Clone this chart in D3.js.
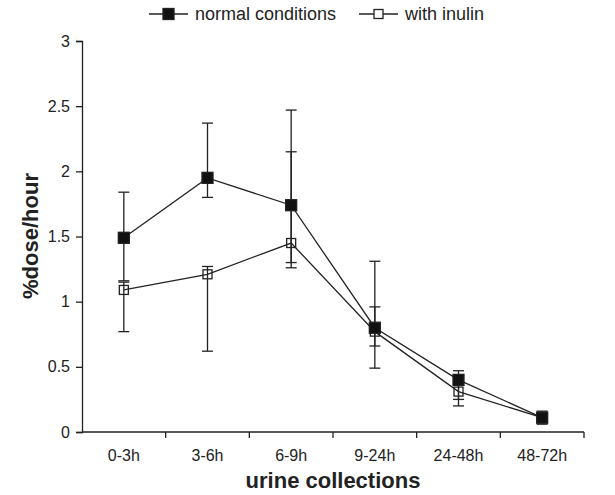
<!DOCTYPE html>
<html>
<head>
<meta charset="utf-8">
<script src="https://cdn.jsdelivr.net/npm/d3@7"></script>
<style>
  body { margin: 0; background: #fff; }
  text { font-family: "Liberation Sans", Arial, sans-serif; fill: #222; }
</style>
</head>
<body>
<script>
// urine collection periods
const periods = ["0-3h", "3-6h", "6-9h", "9-24h", "24-48h", "48-72h"]
const yTicks = [0, 0.5, 1, 1.5, 2, 2.5, 3]

// normal conditions
const normal   = [1.49, 1.95, 1.74, 0.80, 0.40, 0.11]
const normalHi = [1.84, 2.37, 2.15, 1.31, 0.47, 0.16]
const normalLo = [1.16, 1.80, 1.30, 0.66, 0.25, 0.06]

// with inulin
const inulin   = [1.09, 1.21, 1.45, 0.77, 0.31, 0.11]
const inulinHi = [1.15, 1.27, 2.47, 0.96, 0.44, 0.15]
const inulinLo = [0.77, 0.62, 1.26, 0.49, 0.20, 0.07]

const series = [
    {name: "normal conditions", fill: "#111", v: normal, hi: normalHi, lo: normalLo},
    {name: "with inulin", fill: "#fff", v: inulin, hi: inulinHi, lo: inulinLo}
]

const W = 615, H = 495
const ink = "#222"

const svg = d3.select("body").append("svg")
    .attr("width", W).attr("height", H)

const x = d3.scaleBand().domain(periods).range([82, 584])
const y = d3.scaleLinear().domain([0, 3]).range([432, 41])
const cx = d => x(d) + x.bandwidth() / 2

// y axis
const gy = svg.append("g").attr("transform", "translate(82,0)")
    .call(d3.axisLeft(y).tickValues(yTicks).tickSize(6).tickPadding(6).tickFormat(d3.format("")))
gy.select(".domain").attr("stroke", ink).attr("stroke-width", 1.3)
gy.selectAll(".tick line").attr("stroke", ink).attr("stroke-width", 1.3)
gy.selectAll(".tick text").style("font-size", "16px").attr("fill", ink)

// x axis: ticks between categories
const gx = svg.append("g").attr("transform", "translate(0,432)")
gx.append("line").attr("x1", 82).attr("x2", 584).attr("stroke", ink).attr("stroke-width", 1.3)
gx.selectAll("line.tk")
    .data(periods.slice(1).concat(["end"]))
    .join("line").attr("class", "tk")
    .attr("x1", (d, i) => x(periods[0]) + x.bandwidth() * (i + 1))
    .attr("x2", (d, i) => x(periods[0]) + x.bandwidth() * (i + 1))
    .attr("y1", 0).attr("y2", 6)
    .attr("stroke", ink).attr("stroke-width", 1.3)
gx.selectAll("text")
    .data(periods)
    .join("text")
    .attr("x", cx).attr("y", 29)
    .attr("text-anchor", "middle")
    .style("font-size", "16px")
    .text(d => d)

// axis titles
svg.append("text")
    .attr("x", 333).attr("y", 488)
    .attr("text-anchor", "middle")
    .style("font-size", "22px").style("font-weight", "bold")
    .text("urine collections")
svg.append("text")
    .attr("transform", "translate(38,236) rotate(-90)")
    .attr("text-anchor", "middle")
    .style("font-size", "22px").style("font-weight", "bold")
    .text("%dose/hour")

// error bars
series.forEach(s => {
    const g = svg.append("g")
    const rows = periods.map((p, i) => ({p, hi: s.hi[i], lo: s.lo[i]}))
    g.selectAll("line.bar").data(rows).join("line")
        .attr("x1", d => cx(d.p)).attr("x2", d => cx(d.p))
        .attr("y1", d => y(d.hi)).attr("y2", d => y(d.lo))
        .attr("stroke", ink).attr("stroke-width", 1.3)
    ;["hi", "lo"].forEach(k => {
        g.selectAll("line.cap" + k).data(rows).join("line")
            .attr("x1", d => cx(d.p) - 5.5).attr("x2", d => cx(d.p) + 5.5)
            .attr("y1", d => y(d[k])).attr("y2", d => y(d[k]))
            .attr("stroke", ink).attr("stroke-width", 1.3)
    })
})

// lines + markers (inulin first, normal on top)
const line = d3.line().x(d => cx(d.p)).y(d => y(d.v))
series.slice().reverse().forEach(s => {
    const rows = periods.map((p, i) => ({p, v: s.v[i]}))
    svg.append("path").datum(rows)
        .attr("d", line).attr("fill", "none")
        .attr("stroke", ink).attr("stroke-width", 1.3)
    const sz = s.fill === "#fff" ? 9 : 11
    svg.append("g").selectAll("rect").data(rows).join("rect")
        .attr("x", d => cx(d.p) - sz / 2).attr("y", d => y(d.v) - sz / 2)
        .attr("width", sz).attr("height", sz)
        .attr("fill", s.fill).attr("fill-opacity", s.fill === "#fff" ? 0 : 1)
        .attr("stroke", ink).attr("stroke-width", 1.3)
})

// legend
const legX = [149, 359]
series.forEach((s, i) => {
    const g = svg.append("g").attr("transform", `translate(${legX[i]},14)`)
    g.append("line").attr("x1", 0).attr("x2", 39).attr("stroke", ink).attr("stroke-width", 1.3)
    const sz = s.fill === "#fff" ? 9 : 11
    g.append("rect").attr("x", 19.5 - sz / 2).attr("y", -sz / 2)
        .attr("width", sz).attr("height", sz)
        .attr("fill", s.fill).attr("stroke", ink).attr("stroke-width", 1.3)
    g.append("text").attr("x", 46).attr("y", 6)
        .style("font-size", "18px")
        .text(s.name)
})
</script>
</body>
</html>
